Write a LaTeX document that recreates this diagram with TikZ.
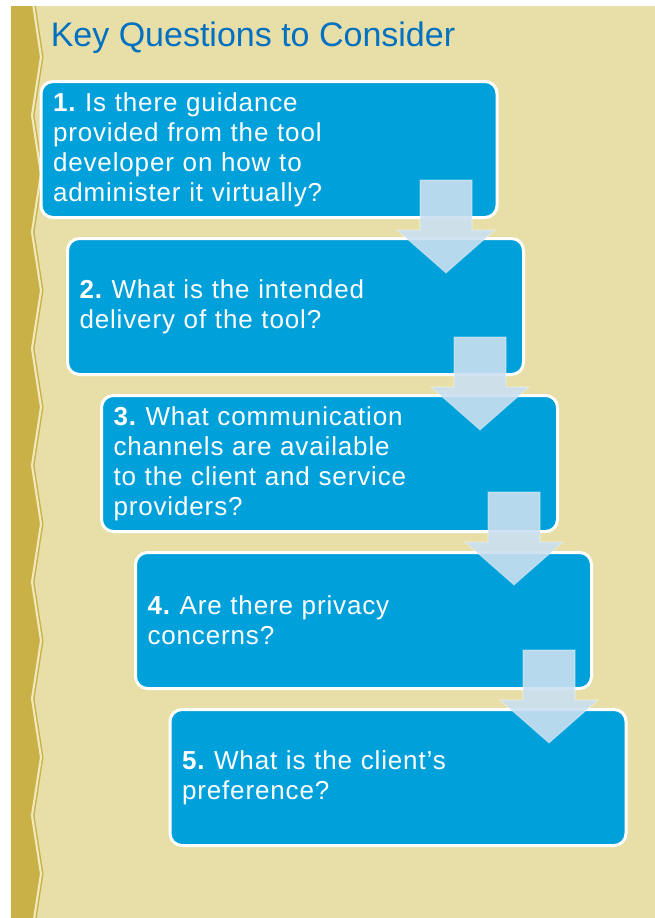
\documentclass[tikz,border=0pt]{standalone}
\usepackage{fontspec}
\setmainfont{Liberation Sans}
\newfontfamily\qfont[LetterSpace=3.3]{Liberation Sans}
\usepackage{xcolor}
\usepackage{tikz}
\usetikzlibrary{positioning}
\frenchspacing

\definecolor{paper}{RGB}{232,223,168}
\definecolor{goldband}{RGB}{201,177,72}
\definecolor{creamline}{RGB}{240,233,190}
\definecolor{boxblue}{RGB}{0,160,218}
\definecolor{arrowblue}{RGB}{203,224,241}
\definecolor{titleblue}{RGB}{0,112,192}

\tikzset{
  qbox/.style={rectangle, rounded corners=9pt, fill=boxblue, draw=white,
    line width=2.25pt, minimum width=342pt, minimum height=102pt,
    text width=324pt, inner xsep=9pt, align=left, text=white,
    font=\qfont\fontsize{19.5}{22.5}\selectfont},
  pics/downarrow/.style={code={
    \fill[arrowblue, fill opacity=0.9] (-26,0) -- (26,0) -- (26,50) -- (49,50)
      -- (0,93) -- (-49,50) -- (-26,50) -- cycle;
    \draw[white, draw opacity=0.3, line width=0.8pt] (-26,0) -- (26,0) -- (26,50)
      -- (49,50) -- (0,93) -- (-49,50) -- (-26,50) -- cycle;
  }}
}

\begin{document}
\begin{tikzpicture}[x=0.75pt, y=-0.75pt]
    \useasboundingbox (0,0) rectangle (655,918);
    \fill[white] (0,0) rectangle (655,918);
    \fill[paper] (11,6) rectangle (655,918);

    % zigzag band on the left
    \begin{scope}
        \clip (11,6) rectangle (655,918);
        \fill[goldband] (11,0) -- (35,0)
            \foreach \k in {0,...,7} { -- (43.5,{57+116.7*\k}) -- (34.5,{115.3+116.7*\k}) }
            -- (11,940) -- cycle;
        \draw[creamline, line width=1.6pt] (32.5,0)
            \foreach \k in {0,...,7} { -- (41,{57+116.7*\k}) -- (32,{115.3+116.7*\k}) };
    \end{scope}

    \node[anchor=base west, text=titleblue, inner sep=0pt,
          font=\fontsize{25.5}{30}\selectfont] (title) at (50.5,46) {Key Questions to Consider};

    \node[qbox] (q1) at (269,149.5) {\textbf{1.} Is there guidance\\provided from the tool\\developer on how to\\administer it virtually?};
    \node[qbox] (q2) at (295.5,306.5) {\textbf{2.} What is the intended\\delivery of the tool?};
    \node[qbox] (q3) at (329.5,463.5) {\textbf{3.} What communication\\channels are available\\to the client and service\\providers?};
    \node[qbox] (q4) at (363.5,620.5) {\textbf{4.} Are there privacy\\concerns?};
    \node[qbox] (q5) at (398,777.5) {\textbf{5.} What is the client’s\\preference?};

    \pic at (446,180) {downarrow};
    \pic at (480,337) {downarrow};
    \pic at (514,492) {downarrow};
    \pic at (549,650) {downarrow};
\end{tikzpicture}
\end{document}
